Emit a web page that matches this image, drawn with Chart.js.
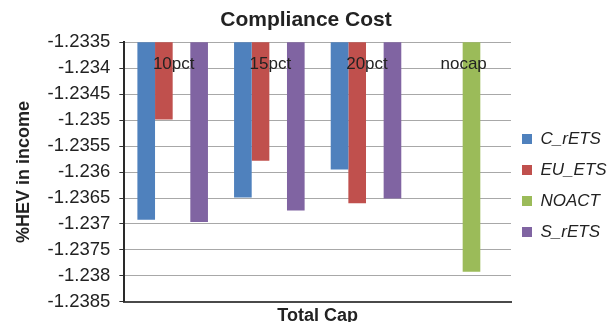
<!DOCTYPE html>
<html>
<head>
<meta charset="utf-8">
<script src="https://cdn.jsdelivr.net/npm/chart.js@4"></script>
<style>
html,body{margin:0;padding:0;background:#fff;}
#wrap{width:612px;height:322px;}
</style>
</head>
<body>
<div id="wrap"><canvas id="c" width="612" height="322"></canvas></div>
<script>
const categories = ["10pct", "15pct", "20pct", "nocap"];
const C_rETS = [-1.23692, -1.23649, -1.23595, null];
const EU_ETS = [-1.23499, -1.23578, -1.23660, null];
const NOACT  = [null, null, null, -1.23792];
const S_rETS = [-1.23696, -1.23674, -1.23651, null];
const yTicks = [-1.2385, -1.238, -1.2375, -1.237, -1.2365, -1.236, -1.2355, -1.235, -1.2345, -1.234, -1.2335];

const topLabels = {
  id: 'topLabels',
  afterLayout(chart) {
    if (chart.legend) { chart.legend.left -= 3; chart.legend.right -= 3; }
  },
  afterDatasetsDraw(chart) {
    const ctx = chart.ctx, x = chart.scales.x, y = chart.scales.y;
    ctx.save();
    ctx.font = '17px "Liberation Sans", Arial, sans-serif';
    ctx.fillStyle = '#222';
    ctx.textAlign = 'center';
    ctx.textBaseline = 'middle';
    categories.forEach((c, i) => {
      ctx.fillText(c, x.getPixelForValue(i) + 1, y.top + 22);
    });
    ctx.restore();
  }
};

new Chart(document.getElementById('c'), {
  type: 'bar',
  data: {
    labels: categories,
    datasets: [
      {label: 'C_rETS', data: C_rETS, backgroundColor: '#4F81BD'},
      {label: 'EU_ETS', data: EU_ETS, backgroundColor: '#C0504D'},
      {label: 'NOACT', data: NOACT, backgroundColor: '#9BBB59'},
      {label: 'S_rETS', data: S_rETS, backgroundColor: '#8064A2'}
    ]
  },
  options: {
    responsive: false,
    animation: false,
    devicePixelRatio: 1,
    layout: {padding: {left: 0, right: 0, top: 0, bottom: 1}},
    datasets: {bar: {categoryPercentage: 0.73, barPercentage: 1.0}},
    plugins: {
      title: {
        display: true,
        text: 'Compliance Cost',
        color: '#222',
        font: {family: '"Liberation Sans", Arial, sans-serif', size: 21, weight: 'bold'},
        padding: {top: 8, bottom: 9}
      },
      legend: {
        position: 'right',
        maxWidth: 101,
        title: {display: true, text: ' ', font: {size: 10}, padding: {top: 38, bottom: 0}},
        labels: {
          boxWidth: 10, boxHeight: 10, padding: 14,
          color: '#222',
          font: {family: '"Liberation Sans", Arial, sans-serif', size: 17, style: 'italic'}
        }
      },
      tooltip: {enabled: false}
    },
    scales: {
      x: {
        grid: {display: false, drawTicks: false},
        border: {display: true, color: '#4a4a4a', width: 2},
        ticks: {display: false},
        title: {
          display: true, text: 'Total Cap', color: '#222',
          font: {family: '"Liberation Sans", Arial, sans-serif', size: 18, weight: 'bold'},
          padding: {top: 3, bottom: -6}
        }
      },
      y: {
        min: -1.2385, max: -1.2335,
        afterBuildTicks: axis => { axis.ticks = yTicks.map(v => ({value: v})); },
        grid: {color: '#a8a8a8', tickColor: '#333', tickLength: 5, lineWidth: 1},
        border: {display: true, color: '#2a2a2a', width: 2},
        ticks: {
          color: '#222', padding: 9,
          font: {family: '"Liberation Sans", Arial, sans-serif', size: 18.5},
          callback: v => String(Number(v.toFixed(4)))
        },
        title: {
          display: true, text: '%HEV in income', color: '#222',
          font: {family: '"Liberation Sans", Arial, sans-serif', size: 18, weight: 'bold'},
          padding: {top: 13, bottom: 4}
        }
      }
    }
  },
  plugins: [topLabels]
});
</script>
</body>
</html>
